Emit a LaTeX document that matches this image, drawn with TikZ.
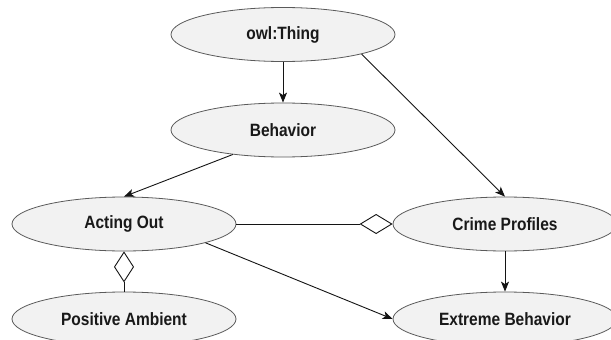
\documentclass[tikz,border=0pt]{standalone}
\usepackage{fontspec}
\setmainfont{Liberation Sans}
\usetikzlibrary{arrows.meta,shapes.geometric}
\definecolor{ellfill}{RGB}{242,242,242}
\definecolor{ellline}{RGB}{90,90,90}
\definecolor{edgecol}{RGB}{20,20,20}
\newcommand\mylbl[1]{\scalebox{1}[1.15]{#1}}
\tikzset{
  cls/.style={ellipse, draw=ellline, fill=ellfill, line width=0.8pt,
    minimum width=224pt, minimum height=54pt, inner sep=0pt,
    font=\fontsize{15.5}{18}\selectfont\bfseries, text=black!90},
  isa/.style={draw=edgecol, line width=0.9pt, -{Stealth[length=10pt,width=8pt,inset=2.5pt]}},
  agg/.style={draw=edgecol, line width=0.9pt, -{Diamond[length=33pt,width=20pt,fill=white,line width=0.9pt]}},
  aggrev/.style={draw=edgecol, line width=0.9pt, {Diamond[length=31pt,width=20pt,fill=white,line width=0.9pt]}-}
}
\begin{document}
\begin{tikzpicture}[x=1pt,y=-1pt]
\useasboundingbox (0,0) rectangle (611,340);
\clip (0,0) rectangle (611,340);
\fill[white] (0,0) rectangle (611,340);
\node[cls] (thing) at (283,34.5) {\mylbl{owl:Thing}};
\node[cls] (beh) at (283,130) {\mylbl{Behavior}};
\node[cls] (act) at (124,224) {\mylbl{Acting Out}};
\node[cls] (pos) at (124,319) {\mylbl{Positive Ambient}};
\node[cls] (crime) at (505,224) {\mylbl{Crime Profiles}};
\node[cls] (ext) at (505,319) {\mylbl{Extreme Behavior}};
\draw[isa] (thing) -- (beh);
\draw[isa] (thing.-14) -- (crime.north);
\draw[isa] (beh.206) -- (act.north);
\draw[agg] (act.east) -- (crime.west);
\draw[aggrev] (act.south) -- (pos.north);
\draw[isa] (act.-13) -- (ext.west);
\draw[isa] (crime) -- (ext);
\end{tikzpicture}
\end{document}
